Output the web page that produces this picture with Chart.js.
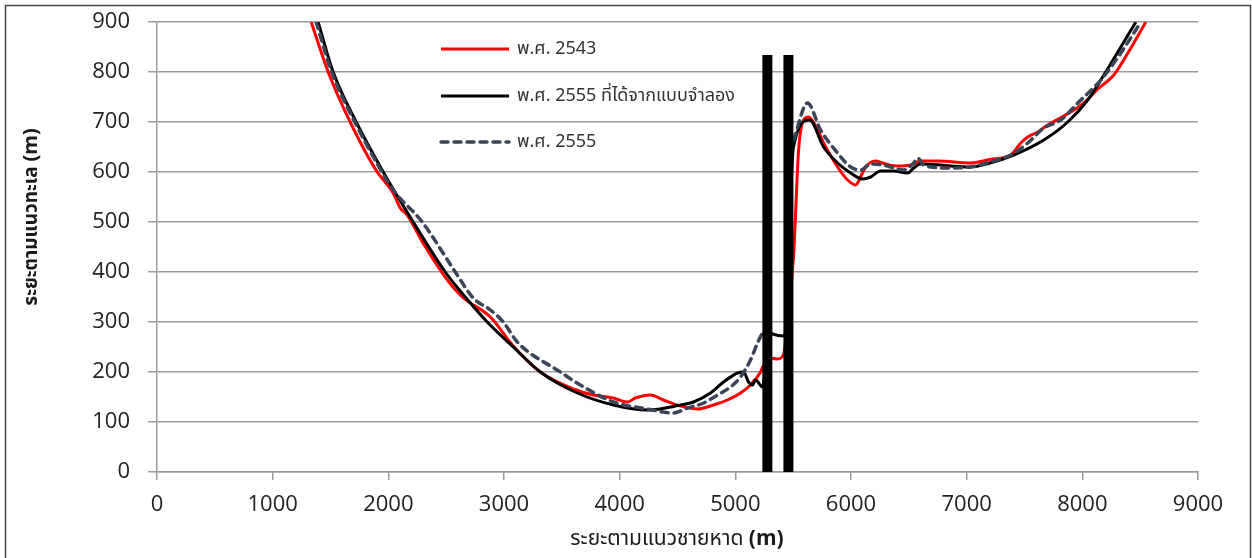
<!DOCTYPE html>
<html>
<head>
<meta charset="utf-8">
<script src="https://cdn.jsdelivr.net/npm/chart.js@4.4.1/dist/chart.umd.min.js"></script>
<style>
	html, body { margin: 0; padding: 0; background: #fff; }
	canvas { display: block; }
</style>
</head>
<body>
<canvas id="shorelineChart" width="1252" height="558"></canvas>
<script>
// Shoreline positions (m).
const red2543X = [ 1333, 1480, 1670, 1904, 1973, 2042, 2103, 2163, 2300, 2510, 2640, 2882, 3080, 3314, 3600, 3773, 3946, 4067, 4136, 4266, 4378, 4526, 4673, 4811, 4932, 5045, 5131, 5218, 5244, 5290, 5365, 5417, 5460, 5503, 5547, 5590, 5633, 5700, 5763, 5884, 5971, 6040, 6083, 6126, 6213, 6300, 6403, 6516, 6602, 6749, 7035, 7200, 7381, 7468, 7528, 7615, 7701, 7840, 8013, 8134, 8272, 8394, 8549 ];
const red2543Y = [ 900, 800, 700, 600, 580, 558, 528, 514, 458, 384, 350, 310, 252, 200, 166, 154, 148, 140, 148, 154, 144, 132, 126, 134, 144, 158, 174, 200, 214, 228, 226, 235, 330, 430, 644, 704, 710, 690, 658, 610, 584, 574, 590, 610, 622, 616, 612, 614, 622, 622, 618, 625, 634, 658, 670, 680, 694, 712, 738, 766, 794, 838, 900 ];

const model2555X = [ 1393, 1523, 1722, 1956, 2215, 2492, 2622, 2855, 3080, 3314, 3634, 3946, 4240, 4526, 4638, 4785, 4898, 5019, 5071, 5114, 5149, 5175, 5235, 5290, 5322, 5417, 5503, 5642, 5763, 5884, 5997, 6101, 6170, 6256, 6369, 6490, 6542, 6602, 7035, 7200, 7407, 7667, 7874, 8047, 8186, 8333, 8463 ];
const model2555Y = [ 900, 800, 700, 600, 500, 400, 362, 300, 250, 200, 158, 134, 124, 134, 140, 158, 180, 198, 200, 180, 174, 184, 170, 280, 276, 272, 650, 704, 650, 618, 598, 586, 590, 602, 602, 598, 608, 616, 610, 618, 634, 664, 700, 744, 794, 850, 900 ];

// null = gap hidden behind the structures
const obs2555X = [ 1376, 1510, 1710, 1945, 2042, 2293, 2579, 2734, 2882, 2994, 3115, 3487, 3660, 3946, 4240, 4465, 4586, 4725, 4846, 4958, 5045, 5131, 5192, 5235, 5265, 5360, 5460, 5503, 5624, 5737, 5884, 5997, 6083, 6170, 6282, 6455, 6542, 6576, 6628, 6836, 7035, 7200, 7381, 7528, 7667, 7814, 7961, 8160, 8333, 8506 ];
const obs2555Y = [ 900, 800, 700, 600, 564, 500, 400, 348, 324, 300, 260, 200, 174, 140, 126, 118, 128, 138, 154, 170, 190, 224, 258, 278, 285, null, 640, 664, 738, 684, 638, 610, 604, 616, 614, 604, 618, 628, 614, 608, 610, 620, 634, 658, 688, 704, 738, 784, 838, 900 ];

// Two structures (groynes) drawn as thick vertical bars.
const structureX = [ 5277, 5459 ];
const structureTop = 834;

const xMin = 0, xMax = 9000, xStep = 1000;
const yMin = 0, yMax = 900, yStep = 100;

const legendLabels = [ 'พ.ศ. 2543', 'พ.ศ. 2555 ที่ได้จากแบบจำลอง', 'พ.ศ. 2555' ];
const xTitle = [ 'ระยะตามแนวชายหาด', '(m)' ];
const yTitle = [ 'ระยะตามแนวทะเล', '(m)' ];

const THAI = '"Noto Sans Thai", "Noto Sans", "Liberation Sans", sans-serif';

function toPoints( xs, ys ) {
	return xs.map( ( x, i ) => ( { x: x, y: ys[ i ] } ) );
}

const curves = [
	{
		label: legendLabels[ 0 ],
		data: toPoints( red2543X, red2543Y ),
		borderColor: '#ff0000',
		borderWidth: 3,
		order: 3
	},
	{
		label: legendLabels[ 1 ],
		data: toPoints( model2555X, model2555Y ),
		borderColor: '#000000',
		borderWidth: 3,
		order: 2
	},
	{
		label: legendLabels[ 2 ],
		data: toPoints( obs2555X, obs2555Y ),
		borderColor: '#3b4556',
		borderWidth: 3.5,
		borderDash: [ 7, 6 ],
		borderCapStyle: 'round',
		order: 1
	}
].map( ( d ) => Object.assign( {
	pointRadius: 0,
	cubicInterpolationMode: 'monotone',
	spanGaps: false,
	fill: false
}, d ) );

const bars = structureX.map( ( x ) => ( {
	label: 'structure',
	data: [ { x: x, y: 0 }, { x: x, y: structureTop } ],
	borderColor: '#000000',
	borderWidth: 10,
	borderCapStyle: 'butt',
	pointRadius: 0,
	tension: 0,
	order: 0
} ) );

// Draw two-part title text (regular + bold "(m)") centred on cx.
function drawTitle( ctx, parts, fonts, cx, baseY ) {
	ctx.font = fonts[ 0 ];
	const w1 = ctx.measureText( parts[ 0 ] + ' ' ).width;
	ctx.font = fonts[ 1 ];
	const w2 = ctx.measureText( parts[ 1 ] ).width;
	const x = cx - ( w1 + w2 ) / 2;
	ctx.textAlign = 'left';
	ctx.textBaseline = 'alphabetic';
	ctx.font = fonts[ 0 ];
	ctx.fillText( parts[ 0 ] + ' ', x, baseY );
	ctx.font = fonts[ 1 ];
	ctx.fillText( parts[ 1 ], x + w1, baseY );
}

const decorPlugin = {
	id: 'decor',
	afterDraw( chart ) {
		const ctx = chart.ctx;
		ctx.save();

		// outer frame
		ctx.strokeStyle = '#444';
		ctx.lineWidth = 1.5;
		ctx.strokeRect( 5.5, 5.5, 1245, 560 );

		ctx.fillStyle = '#1a1a1a';
		drawTitle( ctx, xTitle, [ '21px ' + THAI, 'bold 21px "Open Sans", sans-serif' ], 677, 545 );

		ctx.save();
		ctx.translate( 37, 217 );
		ctx.rotate( -Math.PI / 2 );
		drawTitle( ctx, yTitle, [ 'bold 19px ' + THAI, 'bold 20px "Open Sans", sans-serif' ], 0, 0 );
		ctx.restore();

		// legend inside the plot
		const rows = [ 49, 96, 142 ];
		curves.forEach( ( d, i ) => {
			ctx.beginPath();
			ctx.strokeStyle = d.borderColor;
			ctx.lineWidth = d.borderWidth;
			ctx.lineCap = d.borderCapStyle || 'butt';
			ctx.setLineDash( d.borderDash || [] );
			ctx.moveTo( 441, rows[ i ] );
			ctx.lineTo( 509, rows[ i ] );
			ctx.stroke();
			ctx.setLineDash( [] );
			ctx.fillStyle = '#333';
			ctx.font = '18px ' + THAI;
			ctx.textAlign = 'left';
			ctx.textBaseline = 'middle';
			ctx.fillText( d.label, 517, rows[ i ] + 1 );
		} );

		ctx.restore();
	}
};

new Chart( document.getElementById( 'shorelineChart' ), {
	type: 'line',
	data: { datasets: curves.concat( bars ) },
	options: {
		responsive: false,
		animation: false,
		devicePixelRatio: 1,
		layout: { padding: { left: 0, right: 54, top: 22, bottom: 0 } },
		plugins: {
			legend: { display: false },
			tooltip: { enabled: false }
		},
		scales: {
			x: {
				type: 'linear',
				min: xMin,
				max: xMax,
				afterFit: ( scale ) => {
					scale.height = 86;
					scale.paddingLeft = 0;
					scale.paddingRight = 0;
				},
				ticks: {
					stepSize: xStep,
					color: '#222',
					padding: 12,
					maxRotation: 0,
					callback: ( v ) => String( v ),
					font: { family: '"Open Sans", sans-serif', size: 22 }
				},
				grid: {
					drawOnChartArea: false,
					drawTicks: true,
					tickLength: 8,
					color: '#9b9b9b',
					lineWidth: 1.5
				},
				border: { display: true, color: '#9b9b9b', width: 1.5 }
			},
			y: {
				min: yMin,
				max: yMax,
				afterFit: ( scale ) => {
					scale.width = 157;
					scale.paddingTop = 0;
					scale.paddingBottom = 0;
				},
				ticks: {
					stepSize: yStep,
					color: '#222',
					padding: 18,
					callback: ( v ) => String( v ),
					font: { family: '"Open Sans", sans-serif', size: 22 }
				},
				grid: {
					color: '#9b9b9b',
					lineWidth: 1.5,
					tickLength: 9
				},
				border: { display: true, color: '#9b9b9b', width: 1.5 }
			}
		}
	},
	plugins: [ decorPlugin ]
} );
</script>
</body>
</html>
